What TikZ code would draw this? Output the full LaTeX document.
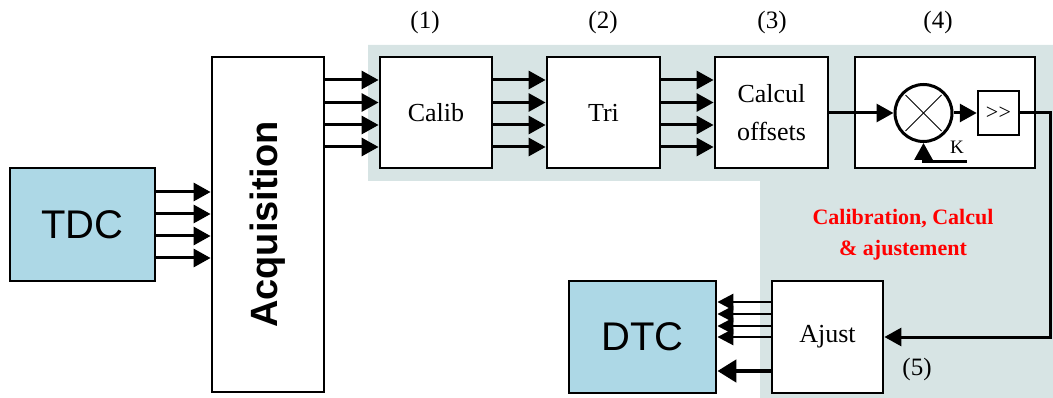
\documentclass[tikz,border=0pt]{standalone}
\usepackage{fontspec}
\setmainfont{Liberation Serif}
\newfontfamily\arialfont{Liberation Sans}
\usetikzlibrary{arrows.meta}
\definecolor{bggray}{RGB}{215,228,228}
\definecolor{lblue}{RGB}{173,216,230}
\begin{document}
\begin{tikzpicture}[x=1pt,y=-1pt,
  box/.style={draw,line width=2.8pt,fill=white,inner sep=0pt,align=center,
    font=\fontsize{26}{38}\selectfont},
  bluebox/.style={box,fill=lblue,font=\arialfont\fontsize{40}{44}\selectfont},
  arr/.style={line width=3pt,-{Triangle[length=17pt,width=18pt]}},
  arrthin/.style={line width=2.7pt,-{Triangle[length=16pt,width=16pt]}},
  arrthick/.style={line width=4.6pt,-{Triangle[length=19pt,width=22pt]}},
  lbl/.style={font=\fontsize{25}{30}\selectfont},
  wire/.style={line width=3pt}]
\useasboundingbox (0,0) rectangle (1053,398);
% grey background zone
\fill[bggray] (368,45) -- (1053,45) -- (1053,398) -- (760,398) -- (760,181) -- (368,181) -- cycle;

% blocks
\node[bluebox, minimum width=145, minimum height=113] (TDC) at (82.5,224.5) {TDC};
\node[box, minimum width=112, minimum height=335] (Acq) at (268,224.5) {};
\node[rotate=90, font=\arialfont\bfseries\fontsize{38}{40}\selectfont] (acqtxt) at (Acq.center) {Acquisition};
\node[box, minimum width=112, minimum height=111] (Calib) at (436,112.5) {Calib};
\node[box, minimum width=113, minimum height=111] (Tri) at (603.5,112.5) {Tri};
\node[box, minimum width=113, minimum height=111] (Calc) at (771.5,112.5) {Calcul\\offsets};
\node[box, minimum width=180, minimum height=111] (Mul) at (945,112.5) {};
\node[circle, draw, line width=3pt, fill=white, minimum size=57, inner sep=0pt] (circ) at (923.5,113) {};
\draw[line width=0.8pt] (circ.center) +(-18,-18) -- +(18,18);
\draw[line width=0.8pt] (circ.center) +(-18,18) -- +(18,-18);
\node[draw, line width=2.5pt, fill=white, minimum width=41, minimum height=44, inner sep=0pt,
  font=\fontsize{22}{24}\selectfont] (shr) at (998.5,113) {\mbox{>}\kern0.5pt\mbox{>}};
\node[box, minimum width=111, minimum height=112] (Ajust) at (827.5,337) {Ajust};
\node[bluebox, minimum width=147, minimum height=112] (DTC) at (642.5,337) {DTC};

% labels
\node[lbl] (l1) at (425,22) {(1)};
\node[lbl] (l2) at (603,22) {(2)};
\node[lbl] (l3) at (772,22) {(3)};
\node[lbl] (l4) at (938,22) {(4)};
\node[lbl] (l5) at (917,369) {(5)};
\node[font=\fontsize{19}{20}\selectfont] (ktxt) at (957,147) {K};
\node[text=red, align=center, font=\bfseries\fontsize{22}{31}\selectfont] (title) at (903,235)
  {Calibration, Calcul\\\& ajustement};

% connectors
\foreach \y in {192,214,236,258}
  \draw[arr] (TDC.east |- 0,\y) -- (Acq.west |- 0,\y);
\foreach \y in {80,102.5,125,147}{
  \draw[arr] (Acq.east |- 0,\y) -- (Calib.west |- 0,\y);
  \draw[arr] (Calib.east |- 0,\y) -- (Tri.west |- 0,\y);
  \draw[arr] (Tri.east |- 0,\y) -- (Calc.west |- 0,\y);
}
\draw[arr] (Calc.east |- circ.west) -- (circ.west);
\draw[arr] (circ.east) -- (shr.west);
\coordinate (kend) at (967,162);
\draw[arr] (kend) -- (circ.south |- kend) -- (circ.south);
\coordinate (rturn) at (1050,113);
\draw[arr] (shr.east) -- (rturn) -- (rturn |- Ajust.east) -- (Ajust.east);
\foreach \y in {302,314,326,337}
  \draw[arrthin] (Ajust.west |- 0,\y) -- (DTC.east |- 0,\y);
\draw[arrthick] (Ajust.west |- 0,371) -- (DTC.east |- 0,371);
\end{tikzpicture}
\end{document}
